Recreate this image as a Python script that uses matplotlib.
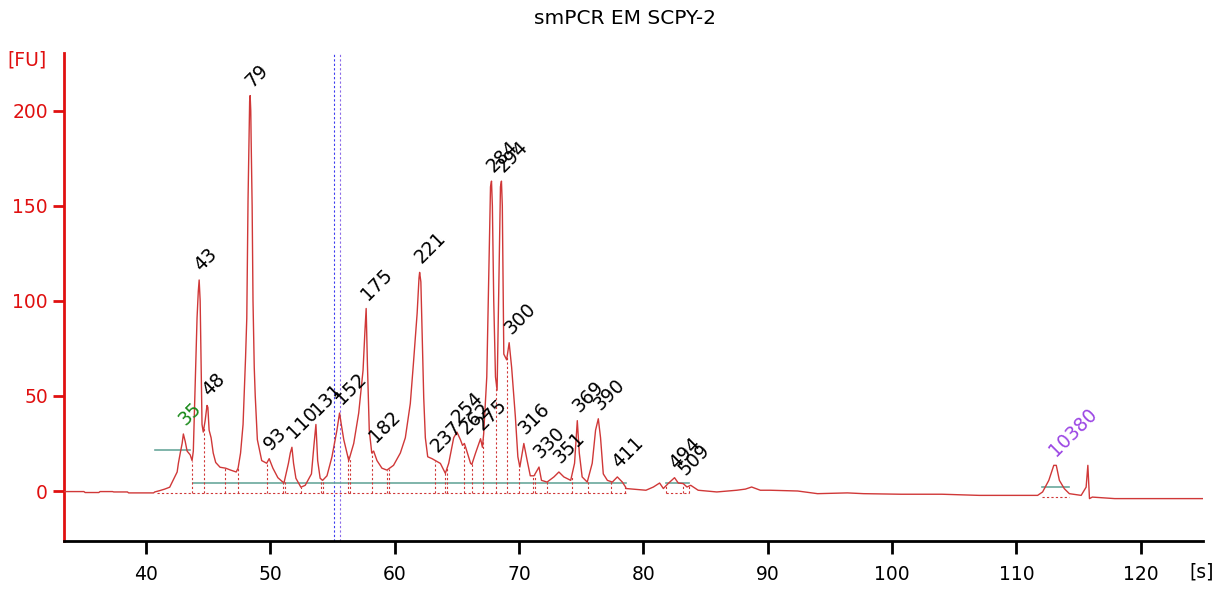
import numpy as np
import matplotlib
matplotlib.use("Agg")
import matplotlib.pyplot as plt

# ---------------- data ----------------
trace_time = [
    33.4, 35.0, 35.1, 36.2, 36.3, 37.3, 37.4, 38.5, 38.6, 40.6, 40.7, 41.1, 41.5, 41.9,
    42.2, 42.5, 42.6, 42.75, 42.9, 43.0, 43.15, 43.3, 43.55, 43.7, 43.8, 43.95, 44.1,
    44.2, 44.27, 44.35, 44.43, 44.5, 44.6, 44.75, 44.9, 44.97, 45.07, 45.23, 45.4, 45.6,
    45.95, 46.4, 46.8, 47.25, 47.4, 47.6, 47.8, 48.0, 48.1, 48.2, 48.33, 48.37, 48.42,
    48.45, 48.53, 48.6, 48.7, 48.78, 48.95, 49.3, 49.7, 49.9, 50.2, 50.6, 51.0, 51.1,
    51.45, 51.6, 51.73, 51.86, 52.05, 52.45, 52.8, 53.3, 53.5, 53.66, 53.8, 54.0, 54.2,
    54.55, 54.95, 55.35, 55.56, 55.7, 55.9, 56.3, 56.7, 57.1, 57.45, 57.6, 57.7, 57.8,
    57.95, 58.15, 58.3, 58.57, 58.97, 59.37, 59.9, 60.45, 60.85, 61.25, 61.5, 61.8,
    61.95, 62.0, 62.1, 62.2, 62.33, 62.46, 62.65, 63.0, 63.27, 63.67, 64.07, 64.34,
    64.74, 65.0, 65.28, 65.45, 65.6, 65.7, 66.1, 66.2, 66.5, 66.9, 67.05, 67.15, 67.4,
    67.7, 67.78, 67.85, 67.96, 68.1, 68.23, 68.35, 68.5, 68.58, 68.65, 68.77, 69.0,
    69.2, 69.4, 69.7, 69.9, 70.06, 70.38, 70.65, 70.9, 71.2, 71.6, 71.8, 72.25, 72.8,
    73.2, 73.6, 74.15, 74.46, 74.68, 74.84, 75.07, 75.48, 75.88, 76.15, 76.37, 76.55,
    76.77, 77.1, 77.5, 77.9, 78.3, 78.56, 78.6, 80.2, 80.8, 81.3, 81.6, 82.0, 82.5,
    82.8, 83.2, 83.5, 83.8, 84.4, 85.9, 87.5, 88.2, 88.7, 89.4, 90.2, 92.4, 94.0, 96.4,
    97.7, 100.7, 104.0, 107.0, 111.7, 112.1, 112.6, 113.0, 113.2, 113.45, 113.85,
    114.25, 115.2, 115.6, 115.74, 115.87, 116.1, 117.9, 125.0,
]
trace_fu = [
    -0.3, -0.3, -0.8, -0.8, -0.3, -0.3, -0.5, -0.5, -1.0, -1.0, -0.5, 0.2, 1.0, 2.0,
    6, 10, 14.6, 20, 25, 30, 26, 21, 19, 16, 21, 57, 91,
    105, 111, 100, 65, 35, 31, 37, 45, 44, 32, 28, 20, 15,
    12.5, 12, 11, 10, 12, 20, 35, 70, 91, 153, 205, 208, 200,
    185, 150, 100, 65, 50, 27, 16, 14.6, 17, 12, 7, 4.7, 4.5,
    14.6, 20, 23, 14.6, 6.7, 2, 3, 9, 24, 35, 16, 6.7, 5.6,
    8, 18, 32, 41, 35, 27, 16, 25, 41, 63.5, 84, 96, 67,
    32, 20, 21, 16, 12, 11, 13.5, 20, 28, 46, 67, 93.5,
    112, 115, 110, 84, 49, 28, 18, 17, 16, 14.5, 9.3, 14.6,
    28, 31, 27, 24, 25, 23, 14.5, 14, 20, 27.5, 23, 30, 60,
    160, 163, 150, 100, 60, 53, 100, 160, 163, 150, 72, 69,
    78, 65, 39, 18, 12.6, 25, 16, 8, 8, 12.6, 5.6, 4.7, 7.4,
    10, 7.4, 5.6, 14.6, 37, 20, 7.4, 4.7, 14.6, 32, 38, 28,
    9, 5.6, 4.7, 7.4, 4.7, 2.1, 1.3, 0.4, 2.1, 4.2, 1.3, 4, 7,
    4.2, 3.9, 2.1, 3, 0.4, -0.5, 0.4, 1.0, 2.1, 0.4, 0.4, 0, -1.4, -1.0,
    -1.4, -1.7, -1.7, -2.3, -2.3, -0.5, 5.6, 13.5, 13.5, 5.6, 1.2,
    -1.4, -2.3, 2, 13.5, -4, -3.2, -4, -4,
]

peak_labels = ["35", "43", "48", "79", "93", "110", "131", "152", "175", "182", "221",
               "237", "254", "262", "275", "284", "294", "300", "316", "330", "351",
               "369", "390", "411", "494", "509", "10380"]
peak_time = [43.0, 44.27, 44.9, 48.37, 49.9, 51.73, 53.66, 55.56, 57.7, 58.3, 62.0,
             63.27, 65.0, 65.6, 66.9, 67.78, 68.58, 69.2, 70.38, 71.6, 73.2,
             74.68, 76.37, 77.9, 82.5, 83.2, 113.0]
peak_height = [30, 111, 45, 208, 17, 23, 35, 41, 96, 21, 115,
               16, 31, 25, 27.5, 163, 163, 78, 25, 12.6, 10,
               37, 38, 7.4, 7, 3.9, 13.5]
peak_kind = ["marker"] + ["sample"] * 25 + ["upper"]

boundary_time = [43.70, 44.67, 46.36, 47.41, 49.74, 51.03, 51.15, 52.48, 54.09, 54.25,
                 56.21, 56.37, 58.21, 59.38, 59.51, 63.27, 64.07, 64.21, 65.54, 66.22,
                 67.11, 68.18, 69.04, 69.98, 71.14, 71.24, 72.21, 74.22, 75.51, 77.36,
                 78.49, 81.79, 83.16, 83.64]

# baseline (dotted red) segments and level lines (teal): start, end, level
baseline_start = [40.9, 81.79, 112.05]
baseline_end = [78.56, 83.64, 114.2]
baseline_level = [-1.0, -1.0, -3.0]
level_start = [40.75, 43.75, 81.79, 112.05]
level_end = [43.55, 78.56, 83.64, 114.2]
level_value = [21.4, 4.4, 4.2, 2.0]

cursor_time = [55.14, 55.62]

x_ticks = [40, 50, 60, 70, 80, 90, 100, 110, 120]
y_ticks = [0, 50, 100, 150, 200]

# ---------------- drawing ----------------
RED = "#d03838"
kind_color = {"marker": "#1a8a1a", "sample": "black", "upper": "#9b45e4"}

fig = plt.figure(figsize=(12.16, 5.90), dpi=100)
ax = fig.add_axes([64 / 1216, 1 - 541 / 590, (1203 - 64) / 1216, (541 - 53) / 590])

ax.plot(trace_time, trace_fu, color=RED, lw=1.0, zorder=3)

for s, e, lv in zip(baseline_start, baseline_end, baseline_level):
    ax.plot([s, e], [lv, lv], color=RED, lw=0.8, ls=(0, (2, 2)), zorder=2)
for s, e, lv in zip(level_start, level_end, level_value):
    ax.plot([s, e], [lv, lv], color="#6aa89c", lw=1.2, zorder=2)

tops = np.interp(boundary_time, trace_time, trace_fu)
ax.vlines(boundary_time, -1.0, tops, colors=RED, lw=0.8, linestyles=(0, (2, 2)), zorder=2)

ax.axvline(cursor_time[0], color="#3a3af0", lw=0.8, ls=(0, (2, 2)), zorder=1)
ax.axvline(cursor_time[1], color="#8a6ae8", lw=0.8, ls=(0, (2, 2)), zorder=1)

for lab, t, h, k in zip(peak_labels, peak_time, peak_height, peak_kind):
    ax.annotate(lab, xy=(t, h), xytext=(2, 8), textcoords="offset pixels",
                rotation=45, rotation_mode="anchor", ha="left", va="baseline",
                fontsize=13.5, color=kind_color[k], zorder=4)

ax.set_xlim(33.4, 125.0)
ax.set_ylim(-26.3, 230.4)
ax.set_xticks(x_ticks)
ax.set_yticks(y_ticks)
ax.spines["top"].set_visible(False)
ax.spines["right"].set_visible(False)
ax.spines["left"].set_color("#e01010")
ax.spines["left"].set_linewidth(2)
ax.spines["bottom"].set_color("black")
ax.spines["bottom"].set_linewidth(2)
ax.tick_params(axis="y", colors="#e01010", labelcolor="#e01010", length=8, width=2,
               labelsize=13.5, pad=3.5)
ax.tick_params(axis="x", colors="black", length=9, width=2, labelsize=13.5, pad=8)

fig.text(27 / 1216, 1 - 60 / 590, "[FU]", color="#e01010", fontsize=13.5,
         ha="center", va="center")
fig.text(1202 / 1216, 1 - 572 / 590, "[s]", color="black", fontsize=13.5,
         ha="center", va="center")
fig.text(625 / 1216, 1 - 19 / 590, "smPCR EM SCPY-2", color="black", fontsize=14.5,
         ha="center", va="center")

fig.savefig("out.png", dpi=100)
